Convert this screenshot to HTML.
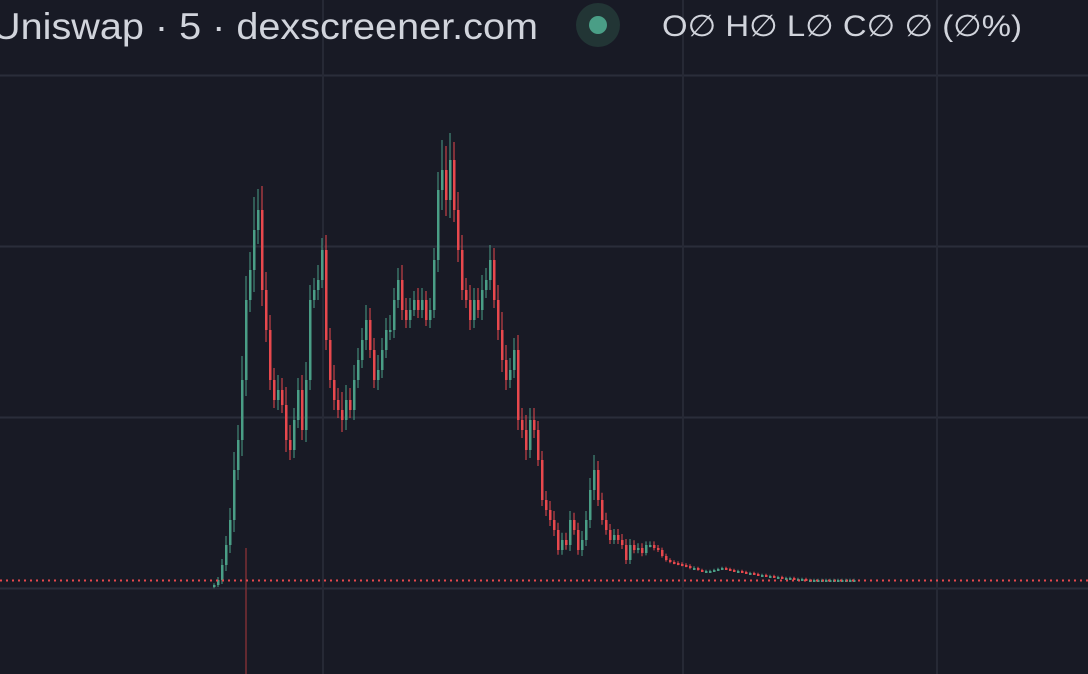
<!DOCTYPE html>
<html><head><meta charset="utf-8">
<style>
html,body{margin:0;padding:0;background:#181a25;width:1088px;height:674px;overflow:hidden}
svg{display:block}
</style></head>
<body>
<svg id="chart" width="1088" height="674" viewBox="0 0 1088 674" xmlns="http://www.w3.org/2000/svg">
<rect width="1088" height="674" fill="#181a25"/>
<g id="grid"></g>
<g id="candles"></g>
<line x1="0" x2="1088" y1="580.5" y2="580.5" stroke="#e8484d" stroke-width="2" stroke-dasharray="2,4"/>
<text x="-8" y="39" font-family="Liberation Sans, sans-serif" font-size="37" textLength="546" lengthAdjust="spacingAndGlyphs" fill="#d1d4dc">Uniswap · 5 · dexscreener.com</text>
<circle cx="598" cy="25" r="22" fill="#223535"/>
<circle cx="598" cy="25" r="9" fill="#4a9e86"/>
<text x="662" y="36" font-family="Liberation Sans, DejaVu Sans, sans-serif" font-size="30" textLength="360" lengthAdjust="spacingAndGlyphs" fill="#d1d4dc">O∅ H∅ L∅ C∅ ∅ (∅%)</text>
</svg>
<script>
const closes=[3,8,23,43,68,118,148,208,288,318,358,378,298,258,208,188,198,183,148,138,168,198,158,208,288,298,308,338,248,208,188,178,168,188,178,208,228,248,268,238,208,218,238,258,258,288,308,278,268,278,288,278,288,268,278,328,398,418,388,428,378,338,298,288,268,288,278,298,308,328,288,258,228,208,218,238,168,158,138,168,158,128,88,78,68,58,38,48,43,68,58,38,48,68,98,118,88,68,58,48,53,48,43,28,43,38,40,35,43,43,40,38,32,28,26,25,24,23,22,20,20,18,17,17,17,18,19,20,19,18,17,17,16,15,15,14,13,13,12,12,11,11,10,10,10,9,9,9,8,8,8,8,8,8,8,8,8,8,8,8,8];
const wicks=[3,5,10,15,20,30,25,40,40,30,55,35,40,30,25,20,25,20,30,25,20,20,25,30,25,20,25,20,25,20,25,20,30,25,20,25,20,20,25,20,20,25,20,20,25,20,20,25,20,20,15,20,20,15,20,20,30,50,40,45,30,30,25,20,25,20,20,25,20,25,20,25,30,25,20,20,25,20,25,20,20,15,15,15,15,15,12,12,12,15,12,12,15,15,20,25,15,12,12,10,10,10,10,10,10,8,8,8,6,6,6,5,4,4,3,3,3,3,3,3,3];
const spikeIndex=[8];
const spikeHigh=[40];
const spikeLow=[-90];
const xTicks=[323,683,937];
const yTicks=[0,171,342,513];

const x0=213, step=4;
function xs(i){return x0+step*i;}
function ys(v){return 588-v;}
const NS='http://www.w3.org/2000/svg';
const grid=document.getElementById('grid');
yTicks.forEach(v=>{
  const l=document.createElementNS(NS,'line');
  l.setAttribute('x1',0);l.setAttribute('x2',1088);
  l.setAttribute('y1',ys(v)+0.5);l.setAttribute('y2',ys(v)+0.5);
  l.setAttribute('stroke','#2a2d3a');l.setAttribute('stroke-width',2);
  
  
  grid.appendChild(l);
});
xTicks.forEach(x=>{
  const l=document.createElementNS(NS,'line');
  l.setAttribute('x1',x);l.setAttribute('x2',x);
  l.setAttribute('y1',0);l.setAttribute('y2',674);
  l.setAttribute('stroke','#262935');l.setAttribute('stroke-width',2);
  
  
  grid.appendChild(l);
});
const g=document.getElementById('candles');
spikeIndex.forEach((idx,k)=>{
  const s=document.createElementNS(NS,'line');
  s.setAttribute('x1',xs(idx)+1);s.setAttribute('x2',xs(idx)+1);
  s.setAttribute('y1',ys(spikeHigh[k]));s.setAttribute('y2',ys(spikeLow[k]));
  s.setAttribute('stroke','#7a2e34');s.setAttribute('stroke-width',1.5);
  
  
  g.appendChild(s);
});
closes.forEach((c,i)=>{
  const o=i>0?closes[i-1]:c-2;
  const w=wicks[i]!==undefined?wicks[i]:2;
  const hi=Math.max(o,c)+w*0.6, lo=Math.min(o,c)-w*0.4;
  const col=c>=o?'#4a9e86':'#e8484d';
  const x=xs(i);
  const wk=document.createElementNS(NS,'line');
  wk.setAttribute('x1',x+1);wk.setAttribute('x2',x+1);
  wk.setAttribute('y1',ys(hi));wk.setAttribute('y2',ys(lo));
  wk.setAttribute('stroke',col);wk.setAttribute('stroke-width',1);
  
  
  g.appendChild(wk);
  const b=document.createElementNS(NS,'rect');
  const top=ys(Math.max(o,c)), h=Math.max(2,Math.abs(c-o));
  b.setAttribute('x',x);b.setAttribute('y',top);
  b.setAttribute('width',2.5);b.setAttribute('height',h);
  b.setAttribute('fill',col);
  
  
  g.appendChild(b);
});
</script>
</body></html>
